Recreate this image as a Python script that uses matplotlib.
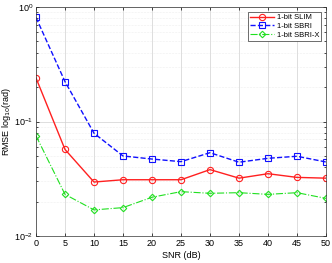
import matplotlib
matplotlib.use("Agg")
import matplotlib.pyplot as plt
from matplotlib.ticker import LogLocator, NullFormatter

snr = [0, 5, 10, 15, 20, 25, 30, 35, 40, 45, 50]
slim = [0.24, 0.057, 0.0296, 0.031, 0.031, 0.031, 0.038, 0.032, 0.035, 0.0325, 0.032]
sbri = [0.81, 0.223, 0.079, 0.050, 0.047, 0.0446, 0.0534, 0.0441, 0.0477, 0.0497, 0.0443]
sbri_x = [0.075, 0.0231, 0.0169, 0.0177, 0.0218, 0.0244, 0.0236, 0.0239, 0.0231, 0.0239, 0.0213]

plt.rcParams['font.family'] = ['Liberation Sans', 'DejaVu Sans']
plt.rcParams['font.size'] = 6.5

fig = plt.figure(figsize=(3.32, 2.63), dpi=100)
ax = fig.add_axes([36 / 332, 1 - 236 / 263, 290 / 332, 229 / 263])

ax.semilogy(snr, slim, '-o', color='#ff2020', lw=1.0, ms=4.5, mfc='none', mew=0.8, label='1-bit SLIM')
ax.semilogy(snr, sbri, '--s', color='#1010ff', lw=1.0, ms=4, mfc='none', mew=0.8, label='1-bit SBRI')
ax.semilogy(snr, sbri_x, '-.D', color='#20e020', lw=0.8, ms=3.3, mfc='none', mew=0.8, label='1-bit SBRI-X')

ax.set_xlim(0, 50)
ax.set_ylim(1e-2, 1)
ax.set_xticks(snr)
ax.yaxis.set_minor_locator(LogLocator(base=10, subs=range(2, 10)))
ax.yaxis.set_minor_formatter(NullFormatter())
ax.grid(True, which='major', color='#d0d0d0', lw=0.5)
ax.grid(True, which='minor', color='#e0e0e0', lw=0.4, ls=':')
ax.tick_params(which='both', direction='in', top=True, right=True, length=2.5, width=0.5, pad=2)
ax.tick_params(which='minor', length=1.5)
for s in ax.spines.values():
    s.set_linewidth(0.5)
    s.set_color('#333333')

ax.set_xlabel('SNR (dB)', labelpad=2)
ax.set_ylabel('RMSE log$_{10}$(rad)', labelpad=1)
leg = ax.legend(loc='upper right', fontsize=5.5, fancybox=False, framealpha=1,
                edgecolor='#333333', borderpad=0.3, labelspacing=0.2, handlelength=3.2,
                handletextpad=0.3, borderaxespad=0.6)
leg.get_frame().set_linewidth(0.5)

fig.savefig('out.png', dpi=100)
